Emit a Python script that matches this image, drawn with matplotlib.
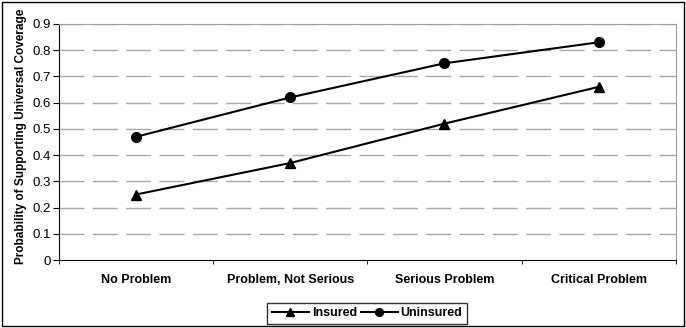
import numpy as np
import matplotlib
matplotlib.use('Agg')
import matplotlib.pyplot as plt
from matplotlib.patches import Rectangle

plt.rcParams['font.family'] = ['Liberation Sans', 'DejaVu Sans']

CATEGORIES = ['No Problem', 'Problem, Not Serious', 'Serious Problem', 'Critical Problem']
INSURED = [0.25, 0.37, 0.52, 0.66]
UNINSURED = [0.47, 0.62, 0.75, 0.83]
YTICKS = [0, 0.1, 0.2, 0.3, 0.4, 0.5, 0.6, 0.7, 0.8, 0.9]

fig = plt.figure(figsize=(6.86, 3.28), dpi=100)
ax = fig.add_axes([0.086, 0.207, 0.899, 0.720])

x = np.arange(len(CATEGORIES))
ax.plot(x, INSURED, color='black', lw=1.5, marker='^', ms=7, label='Insured')
ax.plot(x, UNINSURED, color='black', lw=1.5, marker='o', ms=7, label='Uninsured')

ax.set_xlim(-0.5, len(CATEGORIES) - 0.5)
ax.set_ylim(0, 0.9)
ax.set_yticks(YTICKS)
ax.set_yticklabels(['0'] + ['%.1f' % v for v in YTICKS[1:]], fontsize=9.5)
for v in YTICKS[1:]:
    ax.axhline(v, color='#a8a8a8', lw=1, dashes=(18, 6), zorder=0)

ax.set_xticks(x)
ax.set_xticklabels(CATEGORIES, fontsize=9, fontweight='bold')
ax.set_xticks(np.arange(len(CATEGORIES) + 1) - 0.5, minor=True)
ax.tick_params(axis='x', which='major', length=0, pad=10)
ax.tick_params(axis='x', which='minor', length=3, direction='out')
ax.tick_params(axis='y', length=4, direction='out', pad=2)

ax.set_ylabel('Probability of Supporting Universal Coverage', fontsize=8.5,
              fontweight='bold', labelpad=4, y=0.525)

for side in ['top', 'right']:
    ax.spines[side].set_color('#a0a0a0')
for side in ['left', 'bottom']:
    ax.spines[side].set_color('black')

leg = fig.legend(loc='center', bbox_to_anchor=(0.535, 0.045), ncol=2,
                 frameon=True, fancybox=False, handlelength=3, markerscale=0.8,
                 columnspacing=0.3, handletextpad=0.2, borderpad=0.35,
                 prop={'weight': 'bold', 'size': 9})
leg.get_frame().set_edgecolor('black')
leg.get_frame().set_linewidth(1)

fig.patches.append(Rectangle((0.003, 0.006), 0.994, 0.988, transform=fig.transFigure,
                             fill=False, edgecolor='black', lw=1))

fig.savefig('out.png', dpi=100)
